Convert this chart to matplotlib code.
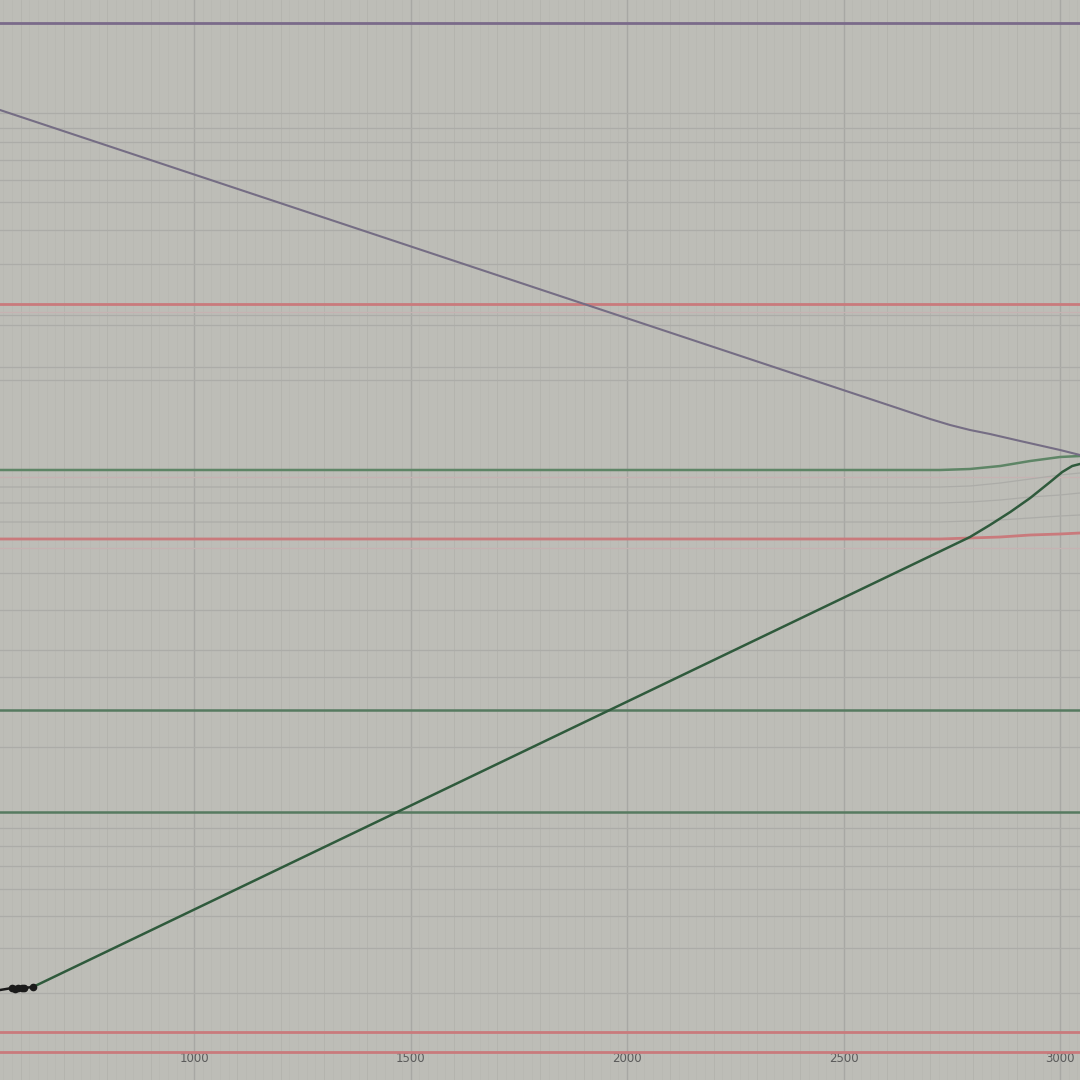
import matplotlib
matplotlib.use('Agg')
import matplotlib.pyplot as plt
import numpy as np

# x ticks shown along the bottom
tick_values = [1000, 1500, 2000, 2500, 3000]
x_limits = (552, 3046)
y_limits = (0, 1080)

# falling curve (purple)
purple_x = [552, 2631, 2700, 2746, 2792, 2838, 2908, 3000, 3046]
purple_y = [970, 671, 661, 655, 650, 646, 639, 630, 625]

# rising curve (green)
green_x = [628, 2792, 2838, 2885, 2931, 2977, 3005, 3028, 3046]
green_y = [93, 543, 555, 568, 582, 598, 608, 614, 616]

# black points at start of the rising curve
dots_x = [552, 580, 587, 594, 603, 607, 628]
dots_y = [90, 92, 91.5, 92, 92.5, 92, 93]

# flat reference levels
purple_levels = [1057]
red_levels = [776, 48, 28]
green_levels = [370, 268]
gray_levels = [967, 952, 938, 920, 900, 878, 850, 816, 765, 755,
               713, 700, 507, 470, 430, 403, 333, 252, 234, 214,
               191, 164, 132, 87]
pink_levels = [768, 603, 532]

# levels that bend near the right edge
bend_x = [552, 2723, 2792, 2862, 2931, 3000, 3046]
green_bend_y = [610, 610, 611, 614, 619, 623, 624]
red_bend_y = [541, 541, 542, 543, 545, 546, 547]
gray_bend_y = [[593, 593, 594, 597, 601, 605, 607],
               [577, 577, 578, 580, 583, 585, 587],
               [558, 558, 559, 560, 562, 564, 565]]

fig = plt.figure(figsize=(10.8, 10.8), dpi=100)
bg = '#bdbdb7'
fig.patch.set_facecolor(bg)
ax = fig.add_axes([0, 0, 1, 1])
ax.set_facecolor(bg)
ax.set_xlim(*x_limits)
ax.set_ylim(*y_limits)

# dense vertical grid
for xv in np.arange(560, 3050, 20):
    ax.axvline(xv, color='#b8b8b2', lw=0.5, zorder=0)
for xv in np.arange(600, 3050, 100):
    ax.axvline(xv, color='#b4b4ae', lw=0.6, zorder=0)
for xv in tick_values:
    ax.axvline(xv, color='#a8a8a4', lw=1.0, zorder=1)

for yv in gray_levels:
    ax.axhline(yv, color='#acaca8', lw=0.9, zorder=1)
for yv in pink_levels:
    ax.axhline(yv, color='#c6b2b2', lw=0.9, zorder=1)
for yv in purple_levels:
    ax.axhline(yv, color='#7a6a8a', lw=2.0, zorder=2)
for yv in red_levels:
    ax.axhline(yv, color='#c97a7c', lw=2.0, zorder=2)
for yv in green_levels:
    ax.axhline(yv, color='#567a60', lw=1.8, zorder=2)

ax.plot(bend_x, green_bend_y, color='#5e8566', lw=1.8, zorder=2)
ax.plot(bend_x, red_bend_y, color='#c97a7c', lw=2.0, zorder=2)
for gy in gray_bend_y:
    ax.plot(bend_x, gy, color='#acaca8', lw=0.9, zorder=1)

ax.plot(purple_x, purple_y, color='#756d84', lw=1.5, zorder=3)
ax.plot(green_x, green_y, color='#2f5a3c', lw=1.8, zorder=3)
ax.plot(dots_x, dots_y, color='#1a1a1a', lw=1.8, marker='o',
        markersize=4.5, markevery=list(range(1, len(dots_x))), zorder=4)

ax.set_xticks(tick_values)
ax.set_xticklabels([str(t) for t in tick_values])
ax.set_yticks([])
ax.tick_params(axis='x', length=0, pad=-20, labelsize=8.5,
               labelcolor='#5a5a5a')
for s in ax.spines.values():
    s.set_visible(False)

fig.savefig('out.png', dpi=100, facecolor=bg)
plt.close()
